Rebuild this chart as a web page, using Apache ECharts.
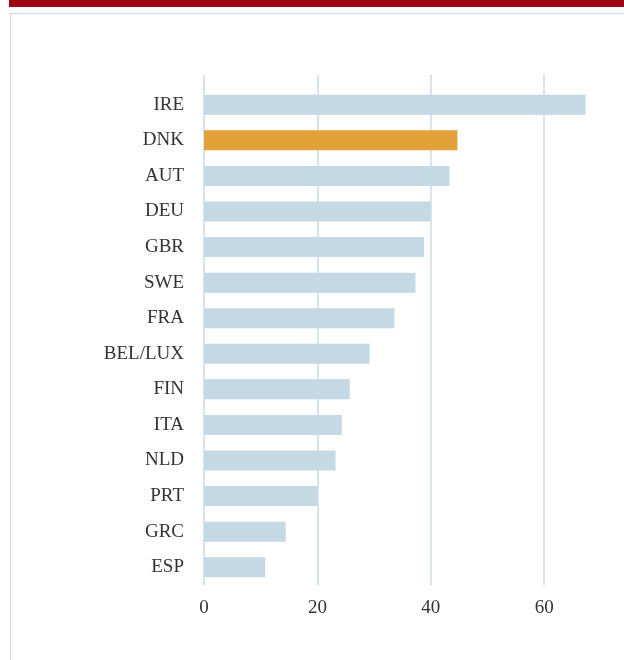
<!DOCTYPE html>
<html>
<head>
<meta charset="utf-8">
<style>
  html, body { margin: 0; padding: 0; background: #fff; }
  #chart { width: 624px; height: 660px; }
</style>
<script src="https://cdn.jsdelivr.net/npm/echarts@6/dist/echarts.min.js"></script>
</head>
<body>
<div id="chart"></div>
<script>
// countries, top to bottom as shown
const countries = ['IRE', 'DNK', 'AUT', 'DEU', 'GBR', 'SWE', 'FRA', 'BEL/LUX', 'FIN', 'ITA', 'NLD', 'PRT', 'GRC', 'ESP']
const values = [67.3, 44.7, 43.3, 40.0, 38.8, 37.3, 33.6, 29.2, 25.7, 24.3, 23.2, 20.0, 14.4, 10.8]
const highlight = 'DNK'

const barColor = '#c4d9e3'
const highlightColor = '#e3a13a'
const gridColor = '#c9dde7'
const font = '"Liberation Serif", "DejaVu Serif", serif'

const chart = echarts.init(document.getElementById('chart'))

const xScale = {
  type: 'value',
  min: 0,
  max: 80,
  interval: 20,
  axisLine: { show: false },
  axisTick: { show: false },
  splitLine: { show: true, lineStyle: { color: gridColor, width: 1.5 } }
}

chart.setOption({
  animation: false,
  backgroundColor: '#fff',
  graphic: [
    // red band on top
    { type: 'rect', shape: { x: 9, y: 0, width: 615, height: 7 }, style: { fill: '#9e0615' }, z: 10 },
    // panel edge (left + top)
    { type: 'polyline', shape: { points: [[10.5, 660], [10.5, 13.5], [624, 13.5]] },
      style: { stroke: '#d3e3ec', lineWidth: 1.5, fill: null }, z: 10 }
  ],
  grid: [
    { left: 204, width: 453.6, top: 87, height: 498, outerBoundsMode: 'none' },
    // stub so the gridlines reach a little above the first bar
    { left: 204, width: 453.6, top: 75, height: 12, outerBoundsMode: 'none' }
  ],
  xAxis: [
    Object.assign({}, xScale, {
      gridIndex: 0,
      axisLabel: { color: '#333', fontFamily: font, fontSize: 19, margin: 14 }
    }),
    Object.assign({}, xScale, { gridIndex: 1, axisLabel: { show: false } })
  ],
  yAxis: [
    {
      gridIndex: 0,
      type: 'category',
      inverse: true,
      data: countries,
      axisLine: { show: false },
      axisTick: { show: false },
      axisLabel: { color: '#333', fontFamily: font, fontSize: 19, margin: 20 }
    },
    { gridIndex: 1, type: 'category', data: [''], show: false }
  ],
  series: [{
    type: 'bar',
    xAxisIndex: 0,
    yAxisIndex: 0,
    barWidth: 20,
    data: values.map((v, i) => ({
      value: v,
      itemStyle: { color: countries[i] === highlight ? highlightColor : barColor }
    }))
  }]
})

window.addEventListener('resize', () => {
  chart.resize()
})
</script>
</body>
</html>
